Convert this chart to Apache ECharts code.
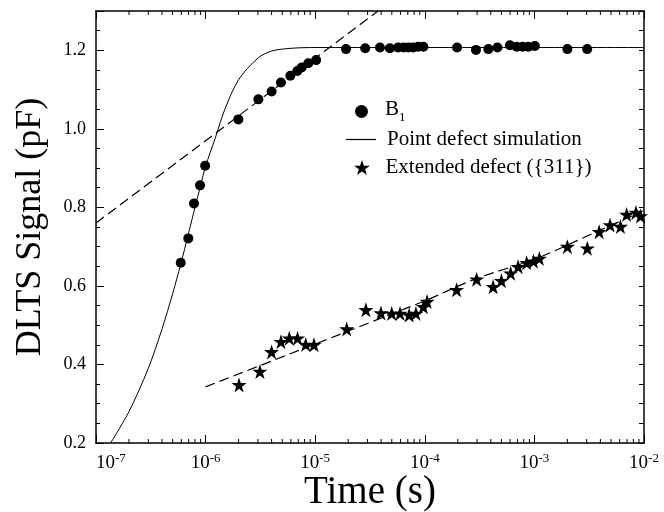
<!DOCTYPE html>
<html>
<head>
<meta charset="utf-8">
<script src="https://cdn.jsdelivr.net/npm/echarts@6/dist/echarts.min.js"></script>
<style>html,body{margin:0;padding:0;background:#fff;}#c{width:664px;height:512px;}</style>
</head>
<body>
<div id="c"></div>
<script>
// ---- data ----
const b1Time = [5.93e-7, 6.95e-7, 7.83e-7, 8.9e-7, 9.9e-7, 1.99e-6, 3.03e-6, 4.0e-6, 4.87e-6, 5.93e-6, 6.87e-6, 7.52e-6, 8.65e-6, 1.02e-5, 1.91e-5, 2.86e-5, 3.9e-5, 4.8e-5, 5.7e-5, 6.4e-5, 7.1e-5, 7.85e-5, 8.7e-5, 9.7e-5, 1.97e-4, 2.93e-4, 3.8e-4, 4.6e-4, 5.98e-4, 6.9e-4, 7.8e-4, 8.8e-4, 1.01e-3, 2.0e-3, 3.03e-3];
const b1Signal = [0.659, 0.721, 0.810, 0.856, 0.906, 1.024, 1.075, 1.095, 1.118, 1.135, 1.147, 1.156, 1.167, 1.175, 1.203, 1.205, 1.207, 1.205, 1.207, 1.207, 1.207, 1.207, 1.209, 1.209, 1.207, 1.201, 1.203, 1.207, 1.213, 1.209, 1.209, 1.209, 1.211, 1.203, 1.203];

const b1FitTime = [1e-7, 3.74e-5];
const b1FitSignal = [0.76, 1.30];

const simTime = [1.36e-7, 2e-7, 3e-7, 4e-7, 5e-7, 5.93e-7, 7e-7, 8e-7, 9e-7, 1e-6, 1.22e-6, 1.5e-6, 2e-6, 3e-6, 4e-6, 6e-6, 1e-5, 1e-2];
const simSignal = [0.20, 0.28, 0.39, 0.49, 0.58, 0.655, 0.735, 0.80, 0.855, 0.905, 0.975, 1.05, 1.125, 1.18, 1.198, 1.205, 1.207, 1.207];

const starTime = [2.02e-6, 3.13e-6, 4.0e-6, 4.87e-6, 5.8e-6, 6.9e-6, 8.2e-6, 9.75e-6, 1.94e-5, 2.9e-5, 3.98e-5, 4.99e-5, 5.94e-5, 7.2e-5, 8.3e-5, 9.7e-5, 1.05e-4, 1.95e-4, 2.97e-4, 4.2e-4, 5.0e-4, 6.07e-4, 7.1e-4, 8.5e-4, 9.8e-4, 1.11e-3, 2.0e-3, 3.04e-3, 3.9e-3, 4.9e-3, 6.1e-3, 6.95e-3, 8.45e-3, 9.3e-3];
const starSignal = [0.348, 0.382, 0.432, 0.458, 0.467, 0.467, 0.451, 0.45, 0.49, 0.539, 0.531, 0.53, 0.53, 0.526, 0.53, 0.547, 0.56, 0.59, 0.617, 0.598, 0.613, 0.632, 0.649, 0.659, 0.663, 0.670, 0.70, 0.696, 0.738, 0.755, 0.751, 0.782, 0.787, 0.778];

const starFitTime = [1e-6, 1e-5, 4.34e-5, 1.04e-4, 2.97e-4, 1.05e-3, 3.97e-3, 9.5e-3];
const starFitSignal = [0.343, 0.452, 0.522, 0.564, 0.619, 0.670, 0.742, 0.789];

// tick definitions
const xDecades = [-7, -6, -5, -4, -3];
const xMinorMultipliers = [2, 3, 4, 5, 6, 7, 8, 9];
const yLabelTicks = [0.2, 0.4, 0.6, 0.8, 1.0, 1.2];

const seriesNames = ['B1', 'Point defect simulation', 'Extended defect ({311})'];

// ---- build ----
const zip = (a, b) => a.map((v, i) => [v, b[i]]);
const minorTicks = [];
xDecades.forEach(d => xMinorMultipliers.forEach(m => minorTicks.push([m * Math.pow(10, d), 0.5])));

const FONT = 'Liberation Serif';
const starPath = 'path://M50,0 L61.8,35.1 L98.9,35.1 L69,56.8 L80.3,91.8 L50,70 L19.7,91.8 L31,56.8 L1.1,35.1 L38.2,35.1 Z';
const linePath = 'path://M0,0H30V1.2H0Z';

const chart = echarts.init(document.getElementById('c'), null, {renderer: 'canvas'});

const axisLineStyle = {show: true, onZero: false, lineStyle: {color: '#000', width: 1.5}};

const legendText = {
  fontFamily: FONT, fontSize: 21, color: '#000', padding: [0, 0, 0, 6],
  rich: {
    n: {fontFamily: FONT, fontSize: 21, color: '#000', verticalAlign: 'bottom', padding: [0, 0, 4, 0]},
    s: {fontFamily: FONT, fontSize: 13, color: '#000', verticalAlign: 'bottom'}
  }
};
const legendBase = {
  orient: 'vertical', padding: 0,
  itemWidth: 30, itemHeight: 13, selectedMode: false,
  formatter: n => n === 'B1' ? '{n|B}{s|1}' : n,
  textStyle: legendText
};

const option = {
  backgroundColor: '#fff',
  animation: false,
  grid: {left: 96, right: 20, top: 11, bottom: 69, containLabel: false, outerBoundsMode: 'none'},
  legend: [
    Object.assign({}, legendBase, {left: 355, top: 99, itemWidth: 25, itemHeight: 13, data: [{name: seriesNames[0], icon: 'circle'}]}),
    Object.assign({}, legendBase, {left: 346, top: 129, data: [{name: seriesNames[1], icon: linePath}]}),
    Object.assign({}, legendBase, {left: 354, top: 157, itemWidth: 25, itemHeight: 15, data: [{name: seriesNames[2], icon: starPath}]})
  ],
  xAxis: [
    {
      type: 'log', logBase: 10, min: 1e-7, max: 1e-2, position: 'bottom',
      name: 'Time (s)', nameLocation: 'middle', nameGap: 30, nameMoveOverlap: false,
      nameTextStyle: {fontFamily: FONT, fontSize: 39, color: '#000'},
      axisLine: axisLineStyle,
      axisTick: {show: true, inside: true, length: 8, lineStyle: {color: '#000', width: 1}},
      splitLine: {show: false},
      axisLabel: {
        margin: 9, alignMinLabel: 'left',
        formatter: v => '{b|10}{s|' + Math.round(Math.log10(v)) + '}',
        rich: {
          b: {fontFamily: FONT, fontSize: 19, color: '#000', verticalAlign: 'bottom'},
          s: {fontFamily: FONT, fontSize: 13, color: '#000', verticalAlign: 'bottom', padding: [0, 0, 8, 0]}
        }
      }
    },
    {
      type: 'log', logBase: 10, min: 1e-7, max: 1e-2, position: 'top',
      axisLine: axisLineStyle,
      axisTick: {show: true, inside: true, length: 8, lineStyle: {color: '#000', width: 1}},
      axisLabel: {show: false}, splitLine: {show: false}
    }
  ],
  yAxis: [
    {
      type: 'value', min: 0.2, max: 1.3, interval: 0.05, position: 'left',
      axisLine: axisLineStyle,
      axisTick: {show: true, inside: true, length: 4, lineStyle: {color: '#000', width: 1}},
      axisLabel: {show: false}, splitLine: {show: false}
    },
    {
      type: 'value', min: 0.2, max: 1.3, interval: 0.2, position: 'left',
      name: 'DLTS Signal (pF)', nameLocation: 'middle', nameGap: 47,
      nameTextStyle: {fontFamily: FONT, fontSize: 36, color: '#000'},
      axisLine: {show: false},
      axisTick: {show: true, inside: true, length: 8, lineStyle: {color: '#000', width: 1}},
      splitLine: {show: false},
      axisLabel: {
        margin: 10, fontFamily: FONT, fontSize: 18, color: '#000',
        formatter: v => yLabelTicks.some(t => Math.abs(t - v) < 1e-6) ? v.toFixed(1) : ''
      }
    },
    {
      type: 'value', min: 0.2, max: 1.3, interval: 0.05, position: 'right',
      axisLine: axisLineStyle,
      axisTick: {show: true, inside: true, length: 5, lineStyle: {color: '#000', width: 1}},
      axisLabel: {show: false}, splitLine: {show: false}
    }
  ],
  series: [
    {
      name: 'minorTicks', type: 'custom', xAxisIndex: 0, yAxisIndex: 0,
      silent: true, clip: false, z: 5,
      data: minorTicks,
      renderItem: (params, api) => {
        const x = api.coord([api.value(0), 0.5])[0];
        const cs = params.coordSys;
        const yb = cs.y + cs.height, yt = cs.y;
        return {
          type: 'group',
          children: [
            {type: 'line', shape: {x1: x, y1: yb, x2: x, y2: yb - 4}, style: {stroke: '#000', lineWidth: 1}},
            {type: 'line', shape: {x1: x, y1: yt, x2: x, y2: yt + 4}, style: {stroke: '#000', lineWidth: 1}}
          ]
        };
      }
    },
    {
      name: 'b1fit', type: 'line', data: zip(b1FitTime, b1FitSignal),
      symbol: 'none', clip: true, silent: true,
      lineStyle: {color: '#000', width: 1.2, type: [10, 5]}
    },
    {
      name: seriesNames[1], type: 'line', data: zip(simTime, simSignal),
      symbol: 'none', smooth: 0.3, clip: true, silent: true,
      lineStyle: {color: '#000', width: 1}, itemStyle: {color: '#000'}
    },
    {
      name: 'starfit', type: 'line', data: zip(starFitTime, starFitSignal),
      symbol: 'none', smooth: 0.3, clip: true, silent: true,
      lineStyle: {color: '#000', width: 1.2, type: [10, 5]}
    },
    {
      name: seriesNames[0], type: 'scatter', data: zip(b1Time, b1Signal),
      symbol: 'circle', symbolSize: 10, itemStyle: {color: '#000', opacity: 1}, z: 3
    },
    {
      name: seriesNames[2], type: 'scatter', data: zip(starTime, starSignal),
      symbol: starPath, symbolSize: 15, itemStyle: {color: '#000', opacity: 1}, z: 3
    }
  ]
};
chart.setOption(option);
</script>
</body>
</html>
